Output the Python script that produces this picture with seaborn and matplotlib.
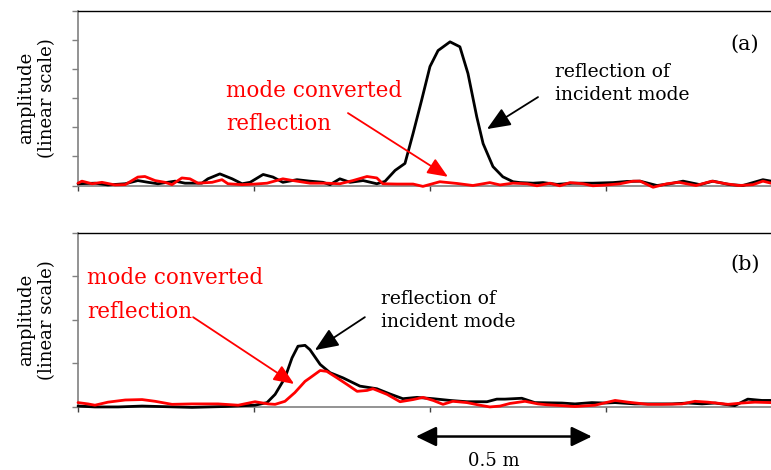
import matplotlib
matplotlib.use("Agg")
import matplotlib.pyplot as plt
import matplotlib.transforms as mtransforms
import pandas as pd
import seaborn as sns

# ---- Panel (a): reflected amplitude vs position along the pipe (m) ----
pos_a_incident = [0.000, 0.048, 0.085, 0.134, 0.170, 0.199, 0.227, 0.276, 0.304, 0.352,
                  0.369, 0.403, 0.438, 0.466, 0.489, 0.526, 0.554, 0.582, 0.622, 0.659,
                  0.696, 0.716, 0.744, 0.773, 0.810, 0.849, 0.872, 0.901, 0.929, 0.952,
                  0.976, 1.000, 1.023, 1.057, 1.085, 1.108, 1.133, 1.151, 1.179, 1.207,
                  1.236, 1.256, 1.293, 1.321, 1.361, 1.406, 1.463, 1.520, 1.560, 1.597,
                  1.645, 1.682, 1.719, 1.767, 1.804, 1.852, 1.889, 1.946, 1.969]
amp_a_incident = [0.06, 0.08, 0.02, 0.06, 0.17, 0.11, 0.06, 0.15, 0.08, 0.08,
                  0.23, 0.40, 0.23, 0.06, 0.11, 0.38, 0.29, 0.11, 0.20, 0.15,
                  0.11, 0.03, 0.23, 0.11, 0.17, 0.06, 0.14, 0.52, 0.76, 1.79,
                  2.92, 4.09, 4.64, 4.94, 4.77, 3.85, 2.36, 1.44, 0.65, 0.30,
                  0.13, 0.10, 0.08, 0.10, 0.04, 0.08, 0.08, 0.10, 0.14, 0.15,
                  0.00, 0.06, 0.15, 0.03, 0.15, 0.03, 0.00, 0.20, 0.15]

pos_a_converted = [0.000, 0.011, 0.040, 0.068, 0.105, 0.134, 0.170, 0.190, 0.219, 0.247,
                   0.267, 0.295, 0.318, 0.341, 0.381, 0.409, 0.426, 0.466, 0.503, 0.537,
                   0.582, 0.611, 0.659, 0.707, 0.744, 0.781, 0.821, 0.849, 0.866, 0.906,
                   0.952, 0.980, 1.028, 1.077, 1.122, 1.170, 1.199, 1.236, 1.276, 1.304,
                   1.341, 1.369, 1.398, 1.435, 1.463, 1.503, 1.540, 1.577, 1.597, 1.634,
                   1.673, 1.707, 1.756, 1.801, 1.841, 1.878, 1.918, 1.946, 1.969]
amp_a_converted = [0.08, 0.15, 0.06, 0.11, 0.02, 0.03, 0.29, 0.31, 0.17, 0.11,
                   0.03, 0.26, 0.23, 0.08, 0.11, 0.20, 0.06, 0.03, 0.05, 0.08,
                   0.23, 0.17, 0.08, 0.08, 0.06, 0.17, 0.31, 0.26, 0.06, 0.05,
                   0.05, -0.03, 0.13, 0.07, 0.00, 0.10, 0.02, 0.08, 0.06, -0.01,
                   0.08, -0.01, 0.10, 0.06, -0.01, 0.02, 0.06, 0.15, 0.15, -0.06,
                   0.06, 0.11, 0.00, 0.15, 0.06, 0.00, 0.03, 0.15, 0.08]

# ---- Panel (b) ----
pos_b_incident = [0.000, 0.048, 0.114, 0.182, 0.324, 0.418, 0.503, 0.537, 0.560, 0.588,
                  0.608, 0.625, 0.645, 0.659, 0.688, 0.716, 0.753, 0.801, 0.849, 0.886,
                  0.923, 0.963, 1.009, 1.057, 1.105, 1.162, 1.190, 1.213, 1.261, 1.298,
                  1.375, 1.412, 1.460, 1.497, 1.526, 1.582, 1.631, 1.688, 1.733, 1.773,
                  1.810, 1.866, 1.903, 1.943, 1.969]
amp_b_incident = [0.01, -0.01, -0.01, 0.01, -0.02, 0.00, 0.03, 0.09, 0.28, 0.66,
                  1.12, 1.39, 1.41, 1.31, 0.97, 0.78, 0.66, 0.47, 0.41, 0.29,
                  0.18, 0.21, 0.18, 0.14, 0.11, 0.11, 0.17, 0.17, 0.19, 0.09,
                  0.08, 0.06, 0.09, 0.08, 0.09, 0.06, 0.06, 0.06, 0.08, 0.06,
                  0.08, 0.02, 0.17, 0.14, 0.14]

pos_b_converted = [0.000, 0.028, 0.048, 0.085, 0.134, 0.182, 0.219, 0.267, 0.324, 0.398,
                   0.455, 0.503, 0.540, 0.560, 0.588, 0.616, 0.645, 0.659, 0.688, 0.707,
                   0.736, 0.764, 0.793, 0.821, 0.838, 0.878, 0.915, 0.952, 0.980, 1.009,
                   1.037, 1.065, 1.105, 1.142, 1.170, 1.199, 1.227, 1.270, 1.307, 1.332,
                   1.375, 1.412, 1.469, 1.526, 1.563, 1.619, 1.659, 1.716, 1.753, 1.790,
                   1.847, 1.886, 1.923, 1.969]
amp_b_converted = [0.09, 0.06, 0.03, 0.10, 0.15, 0.16, 0.12, 0.05, 0.06, 0.06,
                   0.03, 0.11, 0.06, 0.05, 0.12, 0.32, 0.58, 0.66, 0.83, 0.81,
                   0.66, 0.51, 0.35, 0.37, 0.41, 0.28, 0.11, 0.16, 0.21, 0.14,
                   0.05, 0.12, 0.09, 0.03, -0.01, 0.01, 0.07, 0.12, 0.06, 0.04,
                   0.02, 0.00, 0.03, 0.14, 0.10, 0.05, 0.05, 0.06, 0.12, 0.10,
                   0.05, 0.08, 0.10, 0.09]

panel_labels = ["(a)", "(b)"]
incident_label = "reflection of\nincident mode"
converted_lines = ["mode converted", "reflection"]
ylabel_text = "amplitude\n(linear scale)"
scale_text = "0.5 m"
scale_length = 0.5

sns.set_style("white")
plt.rcParams["font.family"] = ["DejaVu Serif", "DejaVu Sans"]
plt.rcParams["text.color"] = "black"
plt.rcParams["axes.labelcolor"] = "black"

BLACK = "#000000"
RED = "#ff0000"
GREY = "#808080"

fig = plt.figure(figsize=(7.71, 4.70), dpi=100)
ax_a = fig.add_axes([0.1012, 0.6053, 0.8988, 0.3713])
ax_b = fig.add_axes([0.1012, 0.1351, 0.8988, 0.3691])


def draw_panel(ax, pos_inc, amp_inc, pos_conv, amp_conv, ymax):
    df_inc = pd.DataFrame({"pos": pos_inc, "amp": amp_inc})
    df_conv = pd.DataFrame({"pos": pos_conv, "amp": amp_conv})
    line_kw = dict(lw=2.0, sort=False, estimator=None, clip_on=False,
                   solid_joinstyle="round", solid_capstyle="round")
    sns.lineplot(data=df_inc, x="pos", y="amp", ax=ax, color=BLACK, zorder=3, **line_kw)
    sns.lineplot(data=df_conv, x="pos", y="amp", ax=ax, color=RED, zorder=4, **line_kw)
    ax.set_xlim(0, 1.969)
    ax.set_ylim(0, ymax)
    ax.set_xticks([0, 0.5, 1.0, 1.5])
    ax.set_yticks(range(0, ymax + 1))
    ax.set_xticklabels([])
    ax.set_yticklabels([])
    ax.set_xlabel("")
    ax.set_ylabel(ylabel_text, fontsize=13, color=BLACK, linespacing=1.25)
    ax.yaxis.set_label_coords(-0.031, 0.5)
    ax.tick_params(axis="y", direction="out", length=4.3, width=1.0,
                   color=GREY, left=True)
    ax.tick_params(axis="x", direction="out", length=3.6, width=1.0,
                   color="#404040", bottom=True)
    for side in ("left", "bottom"):
        ax.spines[side].set_color(GREY)
        ax.spines[side].set_linewidth(1.2)
    ax.spines["top"].set_color(BLACK)
    ax.spines["top"].set_linewidth(1.0)
    ax.spines["right"].set_visible(False)
    ax.patch.set_alpha(0)


def arrow(ax, start, tip, color, lw, hl, hw):
    ax.annotate("", xy=tip, xytext=start,
                arrowprops=dict(arrowstyle=f"-|>,head_length={hl},head_width={hw}",
                                mutation_scale=20, lw=lw, color=color,
                                shrinkA=0, shrinkB=0),
                annotation_clip=False)


draw_panel(ax_a, pos_a_incident, amp_a_incident, pos_a_converted, amp_a_converted, 6)
draw_panel(ax_b, pos_b_incident, amp_b_incident, pos_b_converted, amp_b_converted, 4)

# Panel (a) annotations
ax_a.text(0.962, 0.811, panel_labels[0], transform=ax_a.transAxes,
          ha="center", va="center", fontsize=15, color=BLACK)
ax_a.text(1.355, 3.52, incident_label, ha="left", va="center",
          fontsize=13.5, linespacing=1.35, color=BLACK)
arrow(ax_a, (1.307, 3.04), (1.162, 1.94), BLACK, 1.3, 0.72, 0.3)
ax_a.text(0.420, 3.04, converted_lines[0], ha="left", va="baseline",
          fontsize=15.5, color=RED)
ax_a.text(0.420, 1.91, converted_lines[1], ha="left", va="baseline",
          fontsize=15.5, color=RED)
arrow(ax_a, (0.767, 2.49), (1.051, 0.30), RED, 1.3, 0.62, 0.26)

# Panel (b) annotations
ax_b.text(0.962, 0.821, panel_labels[1], transform=ax_b.transAxes,
          ha="center", va="center", fontsize=15, color=BLACK)
ax_b.text(0.861, 2.21, incident_label, ha="left", va="center",
          fontsize=13.5, linespacing=1.35, color=BLACK)
arrow(ax_b, (0.815, 2.06), (0.673, 1.30), BLACK, 1.3, 0.72, 0.3)
ax_b.text(0.026, 2.82, converted_lines[0], ha="left", va="baseline",
          fontsize=15.5, color=RED)
ax_b.text(0.026, 2.04, converted_lines[1], ha="left", va="baseline",
          fontsize=15.5, color=RED)
arrow(ax_b, (0.327, 2.06), (0.614, 0.52), RED, 1.3, 0.62, 0.26)

# Length scale bar below panel (b)
blend = mtransforms.blended_transform_factory(ax_b.transData, ax_b.transAxes)
bar_start = 0.96
ax_b.annotate("", xy=(bar_start + scale_length, -0.173), xycoords=blend,
              xytext=(bar_start, -0.173), textcoords=blend,
              arrowprops=dict(arrowstyle="<|-|>,head_length=0.62,head_width=0.3",
                              mutation_scale=20, lw=1.8, color=BLACK,
                              shrinkA=0, shrinkB=0),
              annotation_clip=False)
ax_b.text(1.18, -0.314, scale_text, transform=blend, ha="center", va="center",
          fontsize=13, color=BLACK)

fig.savefig("out.png", dpi=100)
